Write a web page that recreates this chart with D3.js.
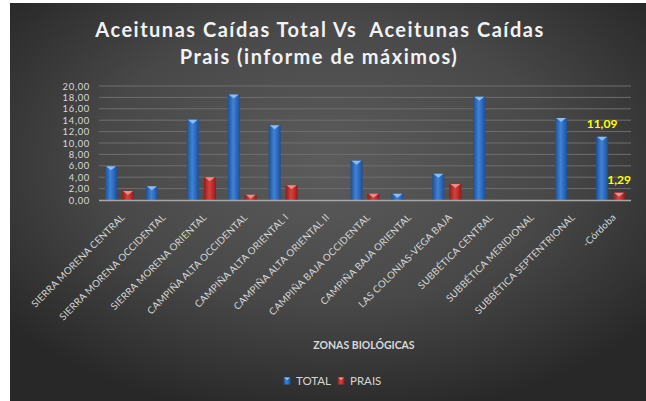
<!DOCTYPE html>
<html><head><meta charset="utf-8">
<script src="https://cdn.jsdelivr.net/npm/d3@7"></script>
<style>html,body{margin:0;padding:0;background:#fff;}svg{display:block;}</style>
</head><body>
<script>
const categories = ["SIERRA MORENA CENTRAL","SIERRA MORENA OCCIDENTAL","SIERRA MORENA ORIENTAL","CAMPIÑA ALTA OCCIDENTAL","CAMPIÑA ALTA ORIENTAL I","CAMPIÑA ALTA ORIENTAL II","CAMPIÑA BAJA OCCIDENTAL","CAMPIÑA BAJA ORIENTAL","LAS COLONIAS-VEGA BAJA","SUBBÉTICA CENTRAL","SUBBÉTICA MERIDIONAL","SUBBÉTICA SEPTENTRIONAL","-Córdoba"];
const totalValues = [5.9, 2.4, 14.1, 18.5, 13.1, null, 6.9, 1.1, 4.6, 18.1, null, 14.4, 11.09];
const praisValues = [1.6, null, 4.0, 0.9, 2.6, null, 1.1, null, 2.8, null, null, null, 1.29];
const yTicks = [0,2,4,6,8,10,12,14,16,18,20];
const seriesNames = ["TOTAL","PRAIS"];
const labelledIndex = 12;

const W = 646, H = 401;
const svg = d3.select("body").append("svg").attr("width", W).attr("height", H);
const defs = svg.append("defs");
const bg = defs.append("radialGradient").attr("id","bg").attr("cx","0.5").attr("cy","0.4").attr("r","0.65");
bg.append("stop").attr("offset","0").attr("stop-color","#5c5c5c");
bg.append("stop").attr("offset","0.55").attr("stop-color","#484848");
bg.append("stop").attr("offset","1").attr("stop-color","#282828");
function barGrad(id, dark, mid, light){
  const g = defs.append("linearGradient").attr("id",id).attr("x1","0").attr("x2","1").attr("y1","0").attr("y2","0");
  g.append("stop").attr("offset","0").attr("stop-color",dark);
  g.append("stop").attr("offset","0.45").attr("stop-color",light);
  g.append("stop").attr("offset","0.7").attr("stop-color",mid);
  g.append("stop").attr("offset","1").attr("stop-color",dark);
}
barGrad("gBlue","#1d4f93","#2f6cc0","#3f82d6");
barGrad("gRed","#8a1d1d","#c0302e","#d8403c");

svg.append("rect").attr("x",10).attr("y",3).attr("width",W-10).attr("height",H-3).attr("fill","url(#bg)");

const fontF = "Lato, 'Open Sans', sans-serif";
const title = svg.append("text").attr("text-anchor","middle").attr("fill","#f2f2f2")
  .attr("font-family", fontF).attr("font-weight","bold").attr("font-size",20).attr("letter-spacing",1.5);
title.append("tspan").attr("x",320).attr("y",37).attr("xml:space","preserve").text("Aceitunas Caídas Total Vs  Aceitunas Caídas");
title.append("tspan").attr("x",319).attr("y",64).text("Prais (informe de máximos)");

const x = d3.scaleBand().domain(categories).range([99, 631]);
const y = d3.scaleLinear().domain([0,20]).range([200, 86]);

// gridlines
svg.append("g").selectAll("line").data(yTicks.filter(d=>d>0)).join("line")
  .attr("x1",99).attr("x2",631).attr("y1",d=>y(d)).attr("y2",d=>y(d))
  .attr("stroke","#6e6e6e").attr("stroke-width",1);

// y axis
const yAxis = d3.axisLeft(y).tickValues(yTicks).tickSize(0).tickPadding(0)
  .tickFormat(d => d3.format(".2f")(d).replace(".", ","));
const gy = svg.append("g").attr("transform","translate(90,0)").call(yAxis);
gy.select(".domain").remove();
gy.selectAll("text").attr("fill","#d9d9d9").attr("font-family",fontF).attr("font-size",9.4)
  .attr("letter-spacing",0.7);

const bw = 12, off = 2.5;
function drawBars(vals, grad, capColor, side){
  const data = vals.map((v,i)=>({v, c: categories[i]})).filter(d=>d.v!=null);
  const g = svg.append("g");
  const cx = d => x(d.c) + x.bandwidth()/2 + (side<0 ? -off-bw : off);
  g.selectAll("rect").data(data).join("rect")
    .attr("x",cx).attr("y",d=>y(d.v)).attr("width",bw).attr("height",d=>y(0)-y(d.v))
    .attr("fill","url(#"+grad+")");
  g.selectAll("path").data(data).join("path")
    .attr("d", d => {const x0=cx(d), t=y(d.v); return `M${x0+1},${t} L${x0+bw-1},${t} L${x0+bw/2},${t+4} Z`;})
    .attr("fill",capColor).attr("opacity",0.85);
}
drawBars(totalValues,"gBlue","#9cc8f5",-1);
drawBars(praisValues,"gRed","#f29a98",1);

// x axis line
svg.append("line").attr("x1",99).attr("x2",631).attr("y1",y(0)+0.5).attr("y2",y(0)+0.5)
  .attr("stroke","#a6a6a6").attr("stroke-width",1.6);

// x labels
const xAxis = d3.axisBottom(x).tickSize(0).tickPadding(0);
const gx = svg.append("g").attr("transform",`translate(0,${y(0)})`).call(xAxis);
gx.select(".domain").remove();
gx.selectAll("text").attr("fill","#d6d6d6").attr("font-family",fontF).attr("font-size",9.8)
  .attr("letter-spacing",0.2)
  .attr("text-anchor","end").attr("dy",0)
  .attr("transform","translate(6,18) rotate(-45)");

// data labels
const yel = "#ffff00";
svg.append("text").attr("x", x(categories[labelledIndex]) + x.bandwidth()/2 - off - bw/2)
  .attr("y", y(totalValues[labelledIndex]) - 9).attr("text-anchor","middle")
  .attr("fill",yel).attr("font-family",fontF).attr("font-weight","bold").attr("font-size",12)
  .text(d3.format(".2f")(totalValues[labelledIndex]).replace(".",","));
svg.append("text").attr("x", x(categories[labelledIndex]) + x.bandwidth()/2 + off + bw/2)
  .attr("y", y(praisValues[labelledIndex]) - 9).attr("text-anchor","middle")
  .attr("fill",yel).attr("font-family",fontF).attr("font-weight","bold").attr("font-size",12)
  .text(d3.format(".2f")(praisValues[labelledIndex]).replace(".",","));

// axis title
svg.append("text").attr("x",364).attr("y",349).attr("text-anchor","middle")
  .attr("fill","#d9d9d9").attr("font-family",fontF).attr("font-weight","bold").attr("font-size",10.5)
  .text("ZONAS BIOLÓGICAS");

// legend
const legend = svg.append("g");
const lx = [287, 341];
const cols = [["url(#gBlue)","#9cc8f5"],["url(#gRed)","#f29a98"]];
seriesNames.forEach((n,i)=>{
  legend.append("rect").attr("x",lx[i]-3.5).attr("y",377.5).attr("width",7).attr("height",7).attr("fill",cols[i][0]);
  legend.append("path").attr("d",`M${lx[i]-3},${377.5} L${lx[i]+3},${377.5} L${lx[i]},${380} Z`).attr("fill",cols[i][1]);
  legend.append("text").attr("x",lx[i]+9).attr("y",385).attr("fill","#d6d6d6")
    .attr("font-family",fontF).attr("font-size",11.5).text(n);
});
</script>
</body></html>
